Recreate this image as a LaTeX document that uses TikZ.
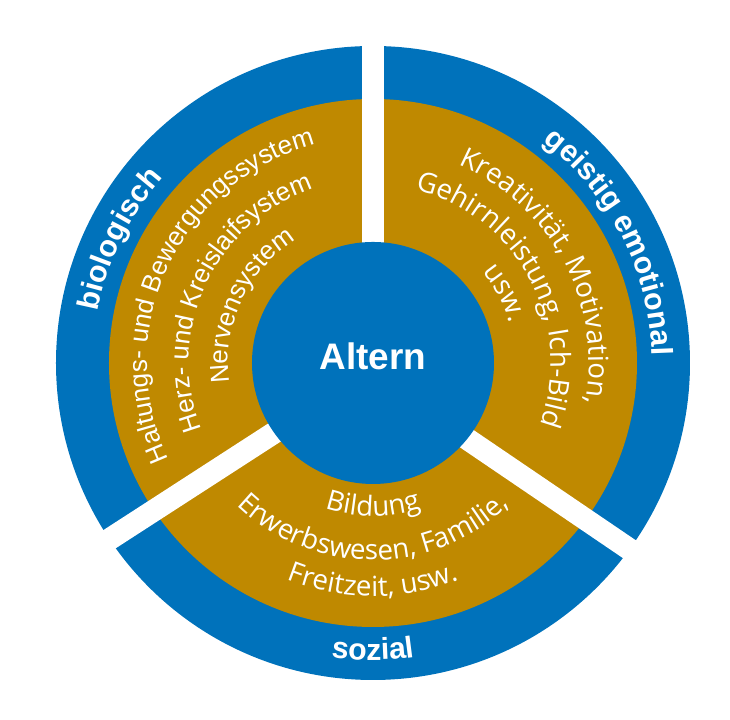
\documentclass[tikz,border=0pt]{standalone}
\usepackage{fontspec}
\setmainfont{Liberation Sans}
\newfontfamily\thinfont{Open Sans}
\usetikzlibrary{decorations.text}

\definecolor{ringblue}{RGB}{0,114,187}
\definecolor{ringgold}{RGB}{191,137,0}

\newcommand{\headfont}{\fontsize{8.6}{10}\selectfont\bfseries}
\newcommand{\biofont}{\fontsize{7.4}{9}\selectfont}
\newcommand{\itemfont}{\thinfont\fontsize{7.9}{9}\selectfont}

\tikzset{
  arctext/.style={decorate, decoration={text along path, text align=center, text color=white, text={#1}}},
  gapbar/.style={white, line width=0.22cm}
}

\begin{document}
\begin{tikzpicture}
  \useasboundingbox (-3.73,-3.57) rectangle (3.57,3.63);
  \fill[ringblue] (0,0) circle (3.17);
  \fill[ringgold] (0,0) circle (2.64);
  \draw[gapbar] (0,0) -- (0,3.4);
  \draw[gapbar] (-0.493,-0.377) -- (-3.18,-2.115);
  \draw[gapbar] (0.424,-0.408) -- (3.07,-2.206);
  \fill[ringblue] (0,0) circle (1.21);
  \node[text=white, font=\fontsize{10.5}{12}\selectfont\bfseries] (altern) at (0,0.065) {Altern};
  % aussen
  \path[arctext={|\headfont|biologisch}] (234:2.80) arc[start angle=234, end angle=74, radius=2.80];
  \path[arctext={|\headfont|geistig emotional}] (107:2.79) arc[start angle=107, end angle=-53, radius=2.79];
  \path[arctext={|\headfont|sozial}] (190:2.97) arc[start angle=190, end angle=350, radius=2.97];
  % biologisch
  \path[arctext={|\biofont|Haltungs- und Bewergungssystem}] (235:2.26) arc[start angle=235, end angle=75, radius=2.26];
  \path[arctext={|\biofont|Herz- und Kreislaifsystem}] (235:1.84) arc[start angle=235, end angle=75, radius=1.84];
  \path[arctext={|\biofont|Nervensystem}] (235:1.45) arc[start angle=235, end angle=75, radius=1.45];
  % geistig emotional
  \path[arctext={|\itemfont|Kreativität, Motivation,}] (108:2.16) arc[start angle=108, end angle=-52, radius=2.16];
  \path[arctext={|\itemfont|Gehirnleistung, Ich-Bild}] (108:1.78) arc[start angle=108, end angle=-52, radius=1.78];
  \path[arctext={|\itemfont|usw.}] (108:1.42) arc[start angle=108, end angle=-52, radius=1.42];
  % sozial
  \path[arctext={|\itemfont|Bildung}] (190:1.53) arc[start angle=190, end angle=350, radius=1.53];
  \path[arctext={|\itemfont|Erwerbswesen, Familie,}] (190:1.97) arc[start angle=190, end angle=350, radius=1.97];
  \path[arctext={|\itemfont|Freitzeit, usw.}] (190:2.33) arc[start angle=190, end angle=350, radius=2.33];
\end{tikzpicture}
\end{document}
